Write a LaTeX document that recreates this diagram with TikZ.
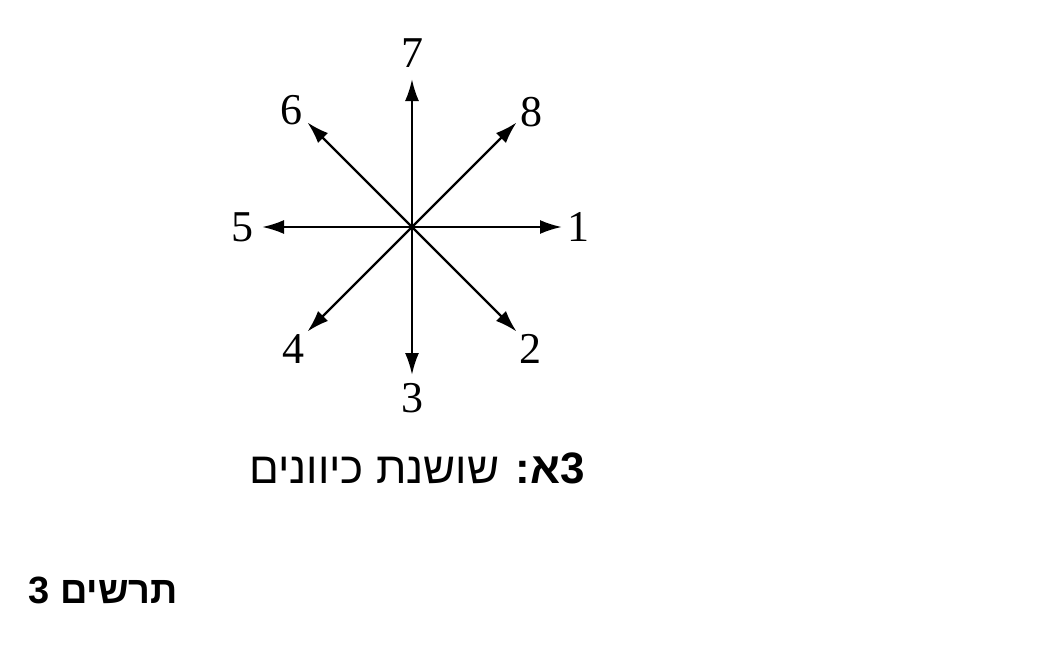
\documentclass[tikz,border=0pt]{standalone}
\usepackage{fontspec}
\usepackage{tikz}
\usetikzlibrary{arrows.meta,calc}
\setmainfont{Liberation Serif}
\newfontfamily\hebfont[Script=Hebrew]{Liberation Sans}
\TeXXeTstate=1

\begin{document}
\begin{tikzpicture}[x=0.5pt,y=0.5pt,
  num/.style={font=\fontsize{22}{24}\selectfont,inner sep=0pt},
  dir/.style={-{Latex[length=11pt,width=7pt]},line width=1.2pt}]
\useasboundingbox (0,0) rectangle (1060,650);
\coordinate (o) at (412,423);
% tips of the arrows
\coordinate (t1) at ($(o)+(0:150)$);
\coordinate (t2) at ($(o)+(-45:148)$);
\coordinate (t3) at ($(o)+(-90:148)$);
\coordinate (t4) at ($(o)+(-135:148)$);
\coordinate (t5) at ($(o)+(180:150)$);
\coordinate (t6) at ($(o)+(135:148)$);
\coordinate (t7) at ($(o)+(90:148)$);
\coordinate (t8) at ($(o)+(45:148)$);
% labels
\node[num] (1) at ($(o)+(0:166)$) {1};
\node[num] (2) at ($(o)+(-46:170)$) {2};
\node[num] (3) at ($(o)+(-90:171)$) {3};
\node[num] (4) at ($(o)+(-134:170)$) {4};
\node[num] (5) at ($(o)+(180:170)$) {5};
\node[num] (6) at ($(o)+(136:168)$) {6};
\node[num] (7) at ($(o)+(90:174)$) {7};
\node[num] (8) at ($(o)+(44:166)$) {8};
\draw[dir] (o) -- (t1);
\draw[dir] (o) -- (t2);
\draw[dir] (o) -- (t3);
\draw[dir] (o) -- (t4);
\draw[dir] (o) -- (t5);
\draw[dir] (o) -- (t6);
\draw[dir] (o) -- (t7);
\draw[dir] (o) -- (t8);
\node (cap) at (417,182) {\hebfont\fontsize{22}{25}\selectfont\beginR\textbf{3א:} שושנת כיוונים\endR};
\node[anchor=west,inner sep=0pt] (title) at (28,60) {\hebfont\bfseries\fontsize{19}{22}\selectfont\beginR תרשים 3\endR};
\end{tikzpicture}
\end{document}
